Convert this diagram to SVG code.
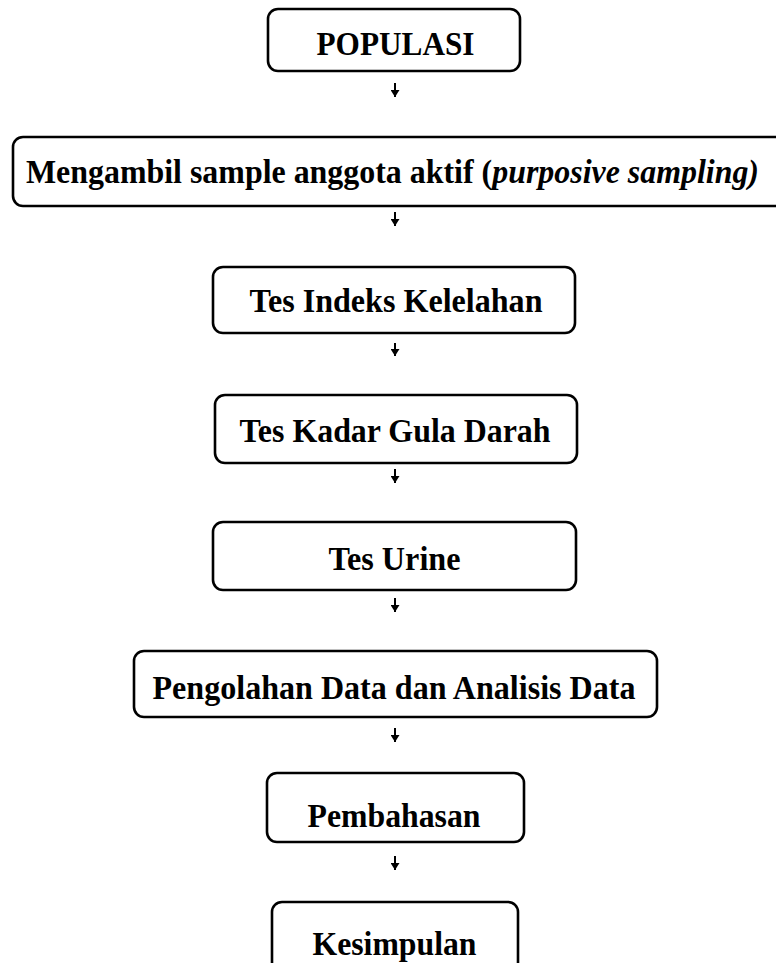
<svg xmlns="http://www.w3.org/2000/svg" width="776" height="963" viewBox="0 0 776 963">
<style>
.box{fill:#fff;stroke:#000;stroke-width:2.6}
.lbl{font-family:"Liberation Serif","Times New Roman",serif;font-weight:bold;font-size:33px;fill:#000;text-anchor:middle}
.it{font-style:italic}
.con{stroke:#000;stroke-width:2;fill:none}
</style>
<defs>
<marker id="ah" markerUnits="userSpaceOnUse" markerWidth="7" markerHeight="9" viewBox="0 0 7 9" refX="7" refY="4.5" orient="auto">
<path d="M0,0 L7,4.5 L0,9 z" fill="#000"/>
</marker>
</defs>
<rect width="776" height="963" fill="#fff"/>
<g id="connectors">
<line class="con" x1="395" y1="83" x2="395" y2="97" marker-end="url(#ah)"/>
<line class="con" x1="395" y1="212" x2="395" y2="226" marker-end="url(#ah)"/>
<line class="con" x1="395" y1="343" x2="395" y2="356" marker-end="url(#ah)"/>
<line class="con" x1="395" y1="469" x2="395" y2="483" marker-end="url(#ah)"/>
<line class="con" x1="395" y1="598" x2="395" y2="612" marker-end="url(#ah)"/>
<line class="con" x1="395" y1="728" x2="395" y2="742" marker-end="url(#ah)"/>
<line class="con" x1="395" y1="856" x2="395" y2="870" marker-end="url(#ah)"/>
</g>
<g id="populasi">
<rect class="box" x="268" y="9" width="252" height="62" rx="10"/>
<text class="lbl" x="395.5" y="55" textLength="158" lengthAdjust="spacingAndGlyphs">POPULASI</text>
</g>
<g id="sampel">
<rect class="box" x="13" y="137" width="790" height="69" rx="10"/>
<text class="lbl" x="392.5" y="183" textLength="733" lengthAdjust="spacingAndGlyphs">Mengambil sample anggota aktif (<tspan class="it">purposive sampling)</tspan></text>
</g>
<g id="tes-indeks">
<rect class="box" x="213" y="267" width="362" height="66" rx="10"/>
<text class="lbl" x="396" y="312" textLength="293" lengthAdjust="spacingAndGlyphs">Tes Indeks Kelelahan</text>
</g>
<g id="tes-gula">
<rect class="box" x="215" y="395" width="362" height="68" rx="10"/>
<text class="lbl" x="395" y="442" textLength="311" lengthAdjust="spacingAndGlyphs">Tes Kadar Gula Darah</text>
</g>
<g id="tes-urine">
<rect class="box" x="213" y="522" width="363" height="68" rx="10"/>
<text class="lbl" x="394.5" y="570" textLength="132" lengthAdjust="spacingAndGlyphs">Tes Urine</text>
</g>
<g id="pengolahan">
<rect class="box" x="134" y="651" width="523" height="66" rx="10"/>
<text class="lbl" x="394" y="699" textLength="483" lengthAdjust="spacingAndGlyphs">Pengolahan Data dan Analisis Data</text>
</g>
<g id="pembahasan">
<rect class="box" x="267" y="773" width="257" height="69" rx="10"/>
<text class="lbl" x="394" y="827" textLength="173" lengthAdjust="spacingAndGlyphs">Pembahasan</text>
</g>
<g id="kesimpulan">
<rect class="box" x="272" y="902" width="246" height="80" rx="10"/>
<text class="lbl" x="394.5" y="955" textLength="164" lengthAdjust="spacingAndGlyphs">Kesimpulan</text>
</g>
</svg>
